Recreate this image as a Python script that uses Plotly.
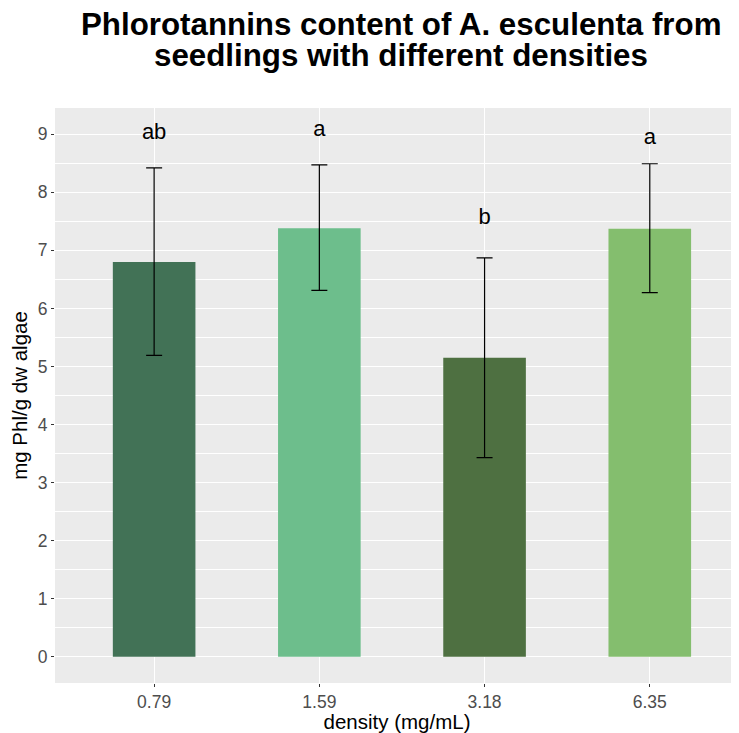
import plotly.graph_objects as go

categories = ["0.79", "1.59", "3.18", "6.35"]
means = [6.80, 7.38, 5.15, 7.37]
upper = [8.42, 8.47, 6.87, 8.49]
lower = [5.19, 6.31, 3.43, 6.27]
letters = ["ab", "a", "b", "a"]
letter_y = [9.01, 9.06, 7.54, 8.92]
colors = ["#427256", "#6DBE8C", "#4E7041", "#84BE6E"]
title_lines = ["Phlorotannins content of A. esculenta from", "seedlings with different densities"]

err_plus = [u - m for u, m in zip(upper, means)]
err_minus = [m - l for m, l in zip(means, lower)]

FONT = "Liberation Sans, Arial, sans-serif"

# page has an 8px body margin; figure sized so its drawing lines up with the window
W, H = 731, 725
L, R, T, B = 47, 0, 100, 50
PW, PH = W - L - R, H - T - B

fig = go.Figure()
fig.add_trace(go.Bar(
    x=categories, y=means, width=0.5,
    marker=dict(color=colors, line=dict(width=0)),
    error_y=dict(type="data", symmetric=False, array=err_plus, arrayminus=err_minus,
                 color="black", thickness=1.2, width=8),
    showlegend=False,
))
fig.add_trace(go.Scatter(
    x=categories, y=letter_y, mode="text", text=letters,
    textposition="middle center",
    textfont=dict(family=FONT, size=22, color="black"),
    showlegend=False, cliponaxis=False,
))

for line, cy in zip(title_lines, [16, 48]):
    fig.add_annotation(
        text="<b>" + line + "</b>", xref="paper", yref="paper",
        x=(393 - L) / PW, xanchor="center",
        y=1 + (T - cy) / PH, yanchor="middle",
        showarrow=False, font=dict(family=FONT, size=31.3, color="black"),
    )

fig.update_layout(
    width=W, height=H,
    paper_bgcolor="white", plot_bgcolor="#EBEBEB",
    margin=dict(l=L, r=R, t=T, b=B, autoexpand=False),
    font=dict(family=FONT, color="#4D4D4D"),
    bargap=0.5,
)
fig.update_xaxes(
    type="category", range=[-0.6, 3.54], automargin=False,
    showgrid=True, gridcolor="white", gridwidth=1.2,
    ticks="outside", ticklen=3, tickcolor="#333333", tickwidth=1,
    tickfont=dict(size=17.5, color="#4D4D4D"),
    title=dict(text="density (mg/mL)", font=dict(size=20.5, color="black"), standoff=0),
    zeroline=False, showline=False,
)
fig.update_yaxes(
    range=[-0.45, 9.45], tickvals=list(range(0, 10)), automargin=False,
    showgrid=True, gridcolor="white", gridwidth=1.2,
    minor=dict(tickvals=[i + 0.5 for i in range(-1, 10)], showgrid=True, gridcolor="white", gridwidth=0.5),
    ticks="outside", ticklen=3, tickcolor="#333333", tickwidth=1,
    tickfont=dict(size=17.5, color="#4D4D4D"),
    title=dict(text="mg Phl/g dw algae", font=dict(size=20.5, color="black"), standoff=8),
    zeroline=False, showline=False,
)

fig.write_html("out.html")
